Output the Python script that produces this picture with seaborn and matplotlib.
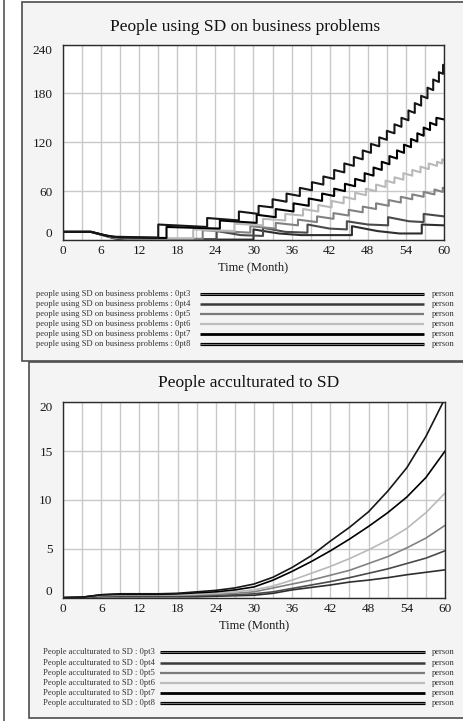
import numpy as np
import pandas as pd
import matplotlib
matplotlib.use('Agg')
import matplotlib.pyplot as plt
import matplotlib.patheffects as pe
import seaborn as sns
from matplotlib.lines import Line2D
from matplotlib.patches import Rectangle
from matplotlib.ticker import MultipleLocator

# ---- data ----
runs = ['0pt3', '0pt4', '0pt5', '0pt6', '0pt7', '0pt8']

# people using SD on business problems (step / sawtooth series, jumps = repeated time)
use_opt3_t = [0, 0, 4.4, 8.5, 11, 30, 30, 34, 37.5, 45.5, 45.5, 49.5, 53, 56.5, 56.5, 60]
use_opt3_v = [0, 10, 10, 1.5, 0.5, 0.5, 13, 8, 6, 6, 17, 11, 8, 8, 19, 18]

use_opt4_t = [0, 0, 4.4, 8, 10, 24.2, 24.2, 28, 31.5, 31.5, 35, 38.5, 38.5, 42, 44.7, 44.7,
              48, 51.2, 51.2, 54.5, 56.8, 56.8, 60]
use_opt4_v = [0, 10, 10, 2, 1, 1, 11, 6, 5, 15, 10, 9, 19, 14, 13, 23,
              19, 18, 28, 23, 22, 32, 29]

use_opt5_t = [0, 0, 4.4, 8, 10, 22, 22, 29.5, 29.5, 33.5, 33.5, 37, 37, 40, 40, 42.6, 42.6,
              45, 45, 47.2, 47.2, 49.3, 49.3, 51.3, 51.3, 53.2, 53.2, 55, 55, 56.8, 56.8,
              58.5, 58.5, 59.8, 59.8, 60]
use_opt5_v = [0, 10, 10, 3, 1.5, 1.5, 12, 9, 17, 14, 21, 18, 25, 22, 29, 26, 33,
              30, 37, 34, 41, 38, 45, 42, 49, 46, 53, 50, 56, 53, 59,
              56, 62, 59, 64, 64]

use_opt6_t = [0, 0, 4.4, 7.5, 10, 20.5, 20.5, 27, 27, 31.5, 31.5, 35, 35, 37.8, 37.8, 40.2,
              40.2, 42.3, 42.3, 44.2, 44.2, 46, 46, 47.7, 47.7, 49.3, 49.3, 50.8, 50.8,
              52.2, 52.2, 53.6, 53.6, 55, 55, 56.3, 56.3, 57.6, 57.6, 58.9, 58.9, 59.7,
              59.7, 60]
use_opt6_v = [0, 10, 10, 4, 2, 2, 13, 11, 20, 18, 26, 24, 32, 30, 38, 35,
              43, 40, 48, 45, 53, 50, 58, 55, 63, 60, 68, 65, 73,
              70, 77, 74, 82, 79, 86, 83, 90, 87, 94, 91, 96, 94,
              99, 98]

use_opt7_t = [0, 0, 4.4, 7, 9, 16.3, 16.3, 24.7, 24.7, 30.5, 30.5, 33.5, 33.5, 36.3, 36.3,
              38.7, 38.7, 40.8, 40.8, 42.7, 42.7, 44.4, 44.4, 46, 46, 47.5, 47.5, 48.9,
              48.9, 50.2, 50.2, 51.4, 51.4, 52.6, 52.6, 53.7, 53.7, 54.8, 54.8, 55.8,
              55.8, 56.8, 56.8, 57.8, 57.8, 58.8, 58.8, 60]
use_opt7_v = [0, 10, 10, 5, 3, 2.5, 16, 14, 24, 21, 31, 28, 38, 35, 45,
              42, 51, 48, 57, 54, 63, 60, 69, 66, 75, 72, 82, 79,
              89, 86, 96, 93, 103, 100, 110, 107, 117, 114, 124, 121,
              131, 128, 138, 135, 144, 141, 150, 148]

use_opt8_t = [0, 0, 4.4, 6.5, 8, 15, 15, 22.7, 22.7, 27.7, 27.7, 30.8, 30.8, 33, 33, 35.2,
              35.2, 37.3, 37.3, 39.2, 39.2, 41, 41, 42.7, 42.7, 44.3, 44.3, 45.8, 45.8,
              47.2, 47.2, 48.5, 48.5, 49.8, 49.8, 51, 51, 52.2, 52.2, 53.3, 53.3, 54.4,
              54.4, 55.4, 55.4, 56.4, 56.4, 57.4, 57.4, 58.3, 58.3, 59.2, 59.2, 59.85,
              59.85, 60]
use_opt8_v = [0, 10, 10, 6, 4, 3, 19, 16, 27, 24, 35, 32, 42, 40, 50, 47,
              57, 54, 64, 61, 71, 68, 78, 75, 86, 83, 94, 91, 102,
              99, 110, 107, 118, 115, 126, 123, 134, 131, 142, 139, 150, 147,
              159, 156, 168, 165, 177, 174, 187, 184, 197, 194, 206, 204,
              215, 215]

# People acculturated to SD (sampled every 3 months)
acc_t = [0, 3, 6, 9, 12, 15, 18, 21, 24, 27, 30, 33, 36, 39, 42, 45, 48, 51, 54, 57, 60]
acc_opt3 = [0, 0.05, 0.1, 0.1, 0.1, 0.1, 0.1, 0.1, 0.15, 0.2, 0.25, 0.45, 0.8, 1.05, 1.3, 1.6, 1.8, 2.05, 2.35, 2.6, 2.85]
acc_opt4 = [0, 0.05, 0.15, 0.2, 0.2, 0.2, 0.2, 0.2, 0.25, 0.3, 0.4, 0.6, 0.95, 1.3, 1.65, 2.05, 2.5, 2.95, 3.5, 4.05, 4.8]
acc_opt5 = [0, 0.05, 0.2, 0.25, 0.25, 0.25, 0.25, 0.3, 0.35, 0.45, 0.6, 1.0, 1.4, 1.8, 2.3, 2.8, 3.5, 4.2, 5.1, 6.1, 7.4]
acc_opt6 = [0, 0.05, 0.25, 0.3, 0.3, 0.3, 0.3, 0.35, 0.45, 0.6, 0.8, 1.2, 1.8, 2.5, 3.2, 4.0, 4.9, 5.9, 7.1, 8.7, 10.7]
acc_opt7 = [0, 0.05, 0.3, 0.35, 0.35, 0.35, 0.4, 0.5, 0.6, 0.8, 1.1, 1.8, 2.7, 3.7, 4.8, 6.0, 7.3, 8.7, 10.3, 12.3, 15.0]
acc_opt8 = [0, 0.05, 0.3, 0.4, 0.4, 0.4, 0.45, 0.6, 0.75, 1.0, 1.4, 2.1, 3.1, 4.3, 5.8, 7.2, 8.8, 10.9, 13.3, 16.5, 20.4]

top_xticks = [0, 6, 12, 18, 24, 30, 36, 42, 48, 54, 60]
top_yticks = [0, 60, 120, 180, 240]
bot_yticks = [0, 5, 10, 15, 20]

# ---- styles ----
line_cols = {'0pt3': '#2e2e2e', '0pt4': '#4a4a4a', '0pt5': '#828282',
             '0pt6': '#b9b9b9', '0pt7': '#000000', '0pt8': '#161616'}
leg_cols = {'0pt3': '#333333', '0pt4': '#3a3a3a', '0pt5': '#7a7a7a',
            '0pt6': '#bdbdbd', '0pt7': '#000000', '0pt8': '#222222'}

sns.set_theme(style='white')
plt.rcParams['font.family'] = ['Liberation Serif', 'DejaVu Serif']

W, H = 464, 721
fig = plt.figure(figsize=(W / 100, H / 100), dpi=100)
fig.patch.set_facecolor('white')


def fx(px):
    return px / W


def fy(py):
    return 1 - py / H


# window frame and the two panels
fig.add_artist(Line2D([fx(4), fx(4)], [0, 1], color='#555555', lw=1.2, zorder=-2))
fig.add_artist(Rectangle((fx(22), fy(361)), fx(470 - 22), (361 - 2) / H,
                         facecolor='#f4f4f4', edgecolor='#4d4d4d', lw=1.2, zorder=-1))
fig.add_artist(Rectangle((fx(29), fy(718)), fx(470 - 29), (718 - 362) / H,
                         facecolor='#f4f4f4', edgecolor='#4d4d4d', lw=1.2, zorder=-1))

ax1 = fig.add_axes([fx(63), fy(240), (444 - 63) / W, (240 - 44.5) / H])
ax2 = fig.add_axes([fx(63), fy(597.7), (445 - 63) / W, (597.7 - 402.3) / H])

use_t = [use_opt3_t, use_opt4_t, use_opt5_t, use_opt6_t, use_opt7_t, use_opt8_t]
use_v = [use_opt3_v, use_opt4_v, use_opt5_v, use_opt6_v, use_opt7_v, use_opt8_v]
top_df = pd.concat([pd.DataFrame({'t': t, 'v': v, 'run': r})
                    for r, t, v in zip(runs, use_t, use_v)], ignore_index=True)

acc_v = [acc_opt3, acc_opt4, acc_opt5, acc_opt6, acc_opt7, acc_opt8]
bot_df = pd.concat([pd.DataFrame({'t': acc_t, 'v': v, 'run': r})
                    for r, v in zip(runs, acc_v)], ignore_index=True)

sns.lineplot(data=top_df, x='t', y='v', hue='run', palette=line_cols, estimator=None,
             sort=False, legend=False, lw=1.5, ax=ax1)
sns.lineplot(data=bot_df, x='t', y='v', hue='run', palette=line_cols, estimator=None,
             sort=False, legend=False, lw=1.2, ax=ax2)

for ax, yt in ((ax1, top_yticks), (ax2, bot_yticks)):
    ax.set_facecolor('white')
    ax.set_xlim(0, 60)
    ax.set_ylim(yt[0], yt[-1])
    ax.set_xticks(top_xticks)
    ax.xaxis.set_minor_locator(MultipleLocator(3))
    ax.set_yticks(yt)
    ax.grid(True, which='both', axis='x', color='#c9c9c9', lw=1.0)
    ax.grid(True, which='major', axis='y', color='#c9c9c9', lw=1.0)
    ax.set_axisbelow(True)
    for s in ax.spines.values():
        s.set_color('#2a2a2a')
        s.set_linewidth(1.0)
    ax.tick_params(axis='both', which='both', length=0, labelsize=9.5, colors='#1a1a1a')
    ax.tick_params(axis='y', pad=7.5)
    ax.tick_params(axis='x', pad=3.5)
    ax.set_ylabel('')
    ax.set_xlabel('Time (Month)', fontsize=9, color='#1a1a1a', labelpad=3.5)
    labs = ax.get_yticklabels()
    labs[0].set_va('bottom')
    labs[-1].set_va('top')

fig.text(fx(245), fy(27), 'People using SD on business problems', fontsize=12.5,
         ha='center', va='center', color='#111111')
fig.text(fx(249), fy(383), 'People acculturated to SD', fontsize=12.5,
         ha='center', va='center', color='#111111')

# legends drawn as rows of text and sample lines
top_rows = [294, 304.3, 314.3, 324.3, 334.3, 344.3]
bot_rows = [652.3, 662.7, 672.7, 683, 693, 703.3]
leg_widths = {'0pt3': 2.2, '0pt4': 1.8, '0pt5': 1.6, '0pt6': 1.6, '0pt7': 2.0, '0pt8': 2.3}

for rows, name, tx, lx0, lx1 in ((top_rows, 'people using SD on business problems', 36, 200, 424),
                                 (bot_rows, 'People acculturated to SD', 42.7, 160, 425)):
    for r, yy in zip(runs, rows):
        fig.text(fx(tx), fy(yy), f'{name} : {r}', fontsize=6.1, va='center',
                 color='#333333')
        fig.text(fx(431.5), fy(yy), 'person', fontsize=6.1, va='center', color='#333333')
        ln = Line2D([fx(lx0), fx(lx1)], [fy(yy), fy(yy)], color=leg_cols[r],
                    lw=leg_widths[r], solid_capstyle='butt')
        if r in ('0pt3', '0pt8'):
            ln.set_color('#000000')
            ln.set_path_effects([pe.Normal(),
                                 pe.Stroke(linewidth=0.6, foreground='#8a8a8a')])
        fig.add_artist(ln)

fig.savefig('out.png', dpi=100)
